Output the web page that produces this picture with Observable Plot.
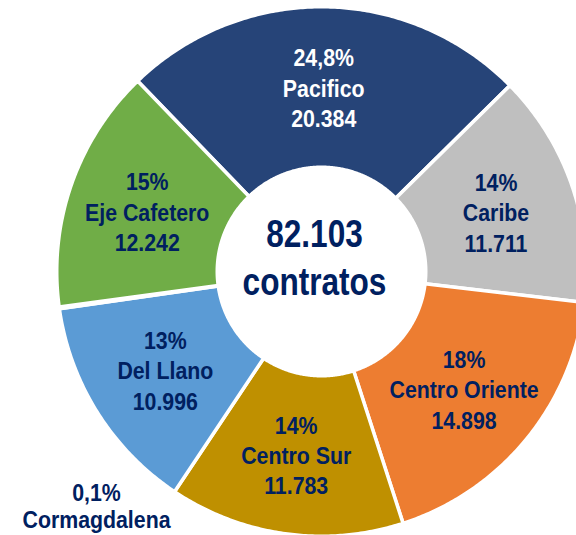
<!DOCTYPE html>
<html><head><meta charset="utf-8">
<script src="https://cdn.jsdelivr.net/npm/d3@7"></script>
<script src="https://cdn.jsdelivr.net/npm/@observablehq/plot@0.6"></script>
<style>
html,body{margin:0;padding:0;background:#fff}
#chart svg{display:block}
</style>
</head><body><div id="chart"></div>
<script>
// ---- data ----
const regions = ["Pacifico","Caribe","Centro Oriente","Centro Sur","Del Llano","Cormagdalena","Eje Cafetero"];
const contracts = [20384,11711,14898,11783,10996,89,12242];
const percentLabels = ["24,8%","14%","18%","14%","13%","0,1%","15%"];
const valueLabels = ["20.384","11.711","14.898","11.783","10.996","89","12.242"];
const colors = ["#264478","#BFBFBF","#ED7D31","#BF9000","#5B9BD5","#A5A5A5","#70AD47"];
const totalLabel = "82.103";
const totalUnit = "contratos";

// ---- layout ----
const W = 576, H = 535, CX = 321, CY = 271, RPX = 264.75;
const R_IN = 104.25 / RPX;
const R_MID = (1 + R_IN) / 2;
const START = -44 * Math.PI / 180;
const FONT = "'Liberation Sans',Arial,sans-serif";

const pie = d3.pie().sort(null).value(d => d).startAngle(START).endAngle(START + 2 * Math.PI);
const arcs = pie(contracts);

const pts = [];
arcs.forEach((a, i) => {
  const span = a.endAngle - a.startAngle;
  const n = Math.max(2, Math.ceil(span / (Math.PI / 360)));
  for (let k = 0; k <= n; k++) {
    const t = a.startAngle + span * k / n;
    pts.push({region: regions[i], x: Math.sin(t), y: Math.cos(t)});
  }
  for (let k = n; k >= 0; k--) {
    const t = a.startAngle + span * k / n;
    pts.push({region: regions[i], x: R_IN * Math.sin(t), y: R_IN * Math.cos(t)});
  }
});

const labels = arcs.map((a, i) => {
  const m = (a.startAngle + a.endAngle) / 2;
  return {
    region: regions[i],
    x: R_MID * Math.sin(m),
    y: R_MID * Math.cos(m),
    text: percentLabels[i] + "\n" + regions[i] + "\n" + valueLabels[i],
    color: i === 0 ? "white" : "#002060"
  };
}).filter(d => d.region !== "Cormagdalena");

const ci = regions.indexOf("Cormagdalena");

const chart = Plot.plot({
  width: W, height: H, margin: 0,
  style: {fontFamily: FONT, background: "white"},
  x: {domain: [-CX / RPX, (W - CX) / RPX], axis: null},
  y: {domain: [-(H - CY) / RPX, CY / RPX], axis: null},
  color: {domain: regions, range: colors},
  marks: [
    Plot.line(pts, {x: "x", y: "y", z: "region", fill: "region", stroke: "white", strokeWidth: 3.5, curve: "linear-closed"}),
    Plot.text(labels, {x: "x", y: "y", text: "text", fill: "color", fontSize: 24.5, fontWeight: "bold", lineHeight: 1.24, fontFamily: FONT}),
    Plot.text([percentLabels[ci] + "\n" + regions[ci]], {frameAnchor: "bottom-left", lineAnchor: "middle", text: d => d, dx: 96, dy: -30, textAnchor: "middle", fill: "#002060", fontSize: 24.5, fontWeight: "bold", lineHeight: 1.1, fontFamily: FONT}),
    Plot.text([totalLabel + "\n" + totalUnit], {x: () => 0, y: () => 0, text: d => d, dx: -7, dy: -16, fill: "#002060", fontSize: 39, fontWeight: "bold", lineHeight: 1.23, fontFamily: FONT})
  ]
});

// condensed (narrow) lettering, as in the reference
d3.select(chart).selectAll("text").each(function() {
  const g = this.parentNode;
  const fs = +(g.getAttribute("font-size") || this.getAttribute("font-size") || 0);
  const s = fs >= 30 ? 0.81 : 0.87;
  const tr = this.getAttribute("transform") || "";
  this.setAttribute("transform", (tr + " scale(" + s + ",1)").trim());
});

document.getElementById("chart").appendChild(chart);
</script>
</body></html>
